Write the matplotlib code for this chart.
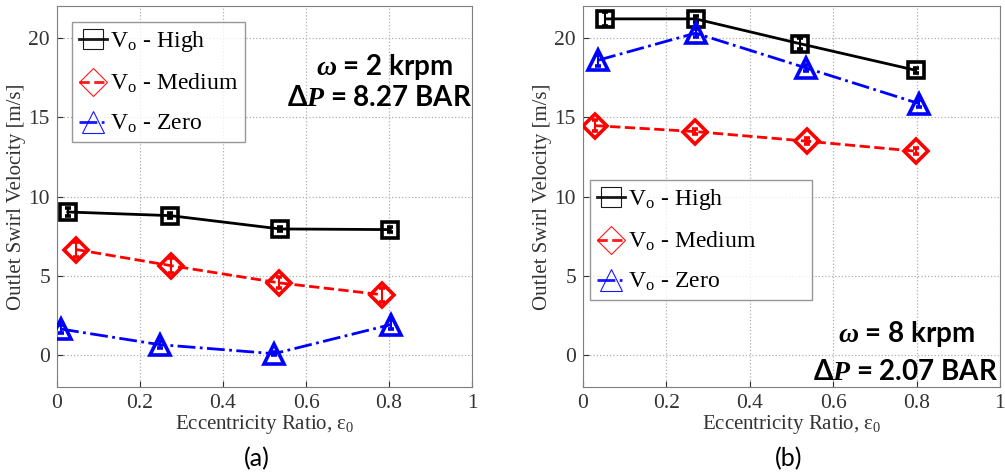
import matplotlib

matplotlib.use("Agg")
import matplotlib.pyplot as plt
from matplotlib.lines import Line2D

# panel (a): omega = 2 krpm
ecc_high_a = [0.026, 0.273, 0.538, 0.803]
vel_high_a = [9.03, 8.80, 7.96, 7.92]
err_high_a = [0.25, 0.15, 0.15, 0.15]
ecc_med_a = [0.047, 0.274, 0.536, 0.782]
vel_med_a = [6.66, 5.65, 4.56, 3.82]
err_med_a = [0.45, 0.45, 0.35, 0.45]
ecc_zero_a = [0.010, 0.247, 0.523, 0.804]
vel_zero_a = [1.65, 0.67, 0.10, 1.93]
err_zero_a = [0.25, 0.20, 0.10, 0.30]

# panel (b): omega = 8 krpm
ecc_high_b = [0.054, 0.270, 0.520, 0.798]
vel_high_b = [21.2, 21.2, 19.64, 17.96]
err_high_b = [0.45, 0.20, 0.35, 0.15]
ecc_med_b = [0.030, 0.268, 0.538, 0.798]
vel_med_b = [14.47, 14.1, 13.49, 12.86]
err_med_b = [0.35, 0.15, 0.20, 0.20]
ecc_zero_b = [0.037, 0.270, 0.536, 0.806]
vel_zero_b = [18.6, 20.3, 18.1, 15.86]
err_zero_b = [0.35, 0.25, 0.20, 0.20]

labels = [r"V$_\mathregular{o}$ - High", r"V$_\mathregular{o}$ - Medium", r"V$_\mathregular{o}$ - Zero"]
x_ticks = [0, 0.2, 0.4, 0.6, 0.8, 1]
x_ticklabels = ["0", "0.2", "0.4", "0.6", "0.8", "1"]
y_ticks = [0, 5, 10, 15, 20]

plt.rcParams["font.family"] = ["Liberation Serif", "DejaVu Serif"]
# "custom" math font is only used by the bold annotations
plt.rcParams["mathtext.fontset"] = "custom"
plt.rcParams["mathtext.rm"] = "Lato:bold"
plt.rcParams["mathtext.it"] = "Liberation Serif:italic:bold"
plt.rcParams["mathtext.bf"] = "Lato:bold"

styles = [
    dict(color="black", ls="-", marker="s"),
    dict(color="#ff0000", ls="--", marker="D"),
    dict(color="#0000ff", ls="-.", marker="^"),
]
marker_sizes = {"s": 12, "D": 12, "^": 14}

fig = plt.figure(figsize=(10.05, 4.76), dpi=100)
ax_a = fig.add_axes([0.0567, 0.187, 0.413, 0.800])
ax_b = fig.add_axes([0.580, 0.187, 0.415, 0.800])

panels = [
    (ax_a, [(ecc_high_a, vel_high_a, err_high_a), (ecc_med_a, vel_med_a, err_med_a), (ecc_zero_a, vel_zero_a, err_zero_a)]),
    (ax_b, [(ecc_high_b, vel_high_b, err_high_b), (ecc_med_b, vel_med_b, err_med_b), (ecc_zero_b, vel_zero_b, err_zero_b)]),
]

for ax, series in panels:
    for (x, y, e), st in zip(series, styles):
        ax.errorbar(x, y, yerr=e, color=st["color"], ls=st["ls"], lw=2,
                    marker=st["marker"], ms=marker_sizes[st["marker"]], mfc="none",
                    mew=2.6, elinewidth=1.5, capsize=2.5, capthick=1.5, zorder=3)
    ax.set_xlim(0, 1)
    ax.set_ylim(-2, 22)
    ax.set_xticks(x_ticks)
    ax.set_xticklabels(x_ticklabels)
    ax.set_yticks(y_ticks)
    ax.tick_params(direction="in", length=4, labelsize=15.5, colors="#333333", pad=5)
    ax.grid(True, ls=":", color="#b0b0b0", lw=0.9)
    for sp in ax.spines.values():
        sp.set_color("#7f7f7f")
    ax.set_xlabel(r"Eccentricity Ratio, $\mathregular{\varepsilon_0}$", fontsize=15, color="#333333",
                  labelpad=0, math_fontfamily="stix")
    ax.set_ylabel("Outlet Swirl Velocity [m/s]", fontsize=15, color="#333333", labelpad=2)

handles = [
    Line2D([], [], color=st["color"], ls=st["ls"], lw=2, marker=st["marker"],
           ms=marker_sizes[st["marker"]] + 2, mfc="none", mew=0.8, alpha=0.9)
    for st in styles
]
leg_kw = dict(frameon=True, fancybox=False, edgecolor="#7f7f7f",
              handlelength=1.2, handletextpad=0.1, borderpad=0.3, labelspacing=0.75,
              borderaxespad=0, prop={"size": 17, "math_fontfamily": "stix"})
leg_a = ax_a.legend(handles, labels, loc="upper left", bbox_to_anchor=(0.036, 0.958), **leg_kw)
leg_b = ax_b.legend(handles, labels, loc="upper left", bbox_to_anchor=(0.017, 0.543, 0.532, 0.0),
                    mode="expand", **leg_kw)
for leg in (leg_a, leg_b):
    leg.get_frame().set_linewidth(1.0)

bold_kw = dict(fontsize=20, fontweight="bold", family=["Lato", "DejaVu Sans"], ha="right",
               math_fontfamily="custom")
ax_a.text(0.955, 0.84, r"$\omega$ = 2 krpm", transform=ax_a.transAxes, va="center", **bold_kw)
ax_a.text(1.0, 0.76, r"$\Delta P$ = 8.27 BAR", transform=ax_a.transAxes, va="center", **bold_kw)
ax_b.text(0.94, 0.14, r"$\omega$ = 8 krpm", transform=ax_b.transAxes, va="center", **bold_kw)
ax_b.text(0.995, 0.04, r"$\Delta P$ = 2.07 BAR", transform=ax_b.transAxes, va="center", **bold_kw)

fig.text(0.256, 0.037, "(a)", fontsize=18, family=["Lato", "DejaVu Sans"], ha="center", va="center")
fig.text(0.785, 0.037, "(b)", fontsize=18, family=["Lato", "DejaVu Sans"], ha="center", va="center")

fig.savefig("out.png", dpi=100)
